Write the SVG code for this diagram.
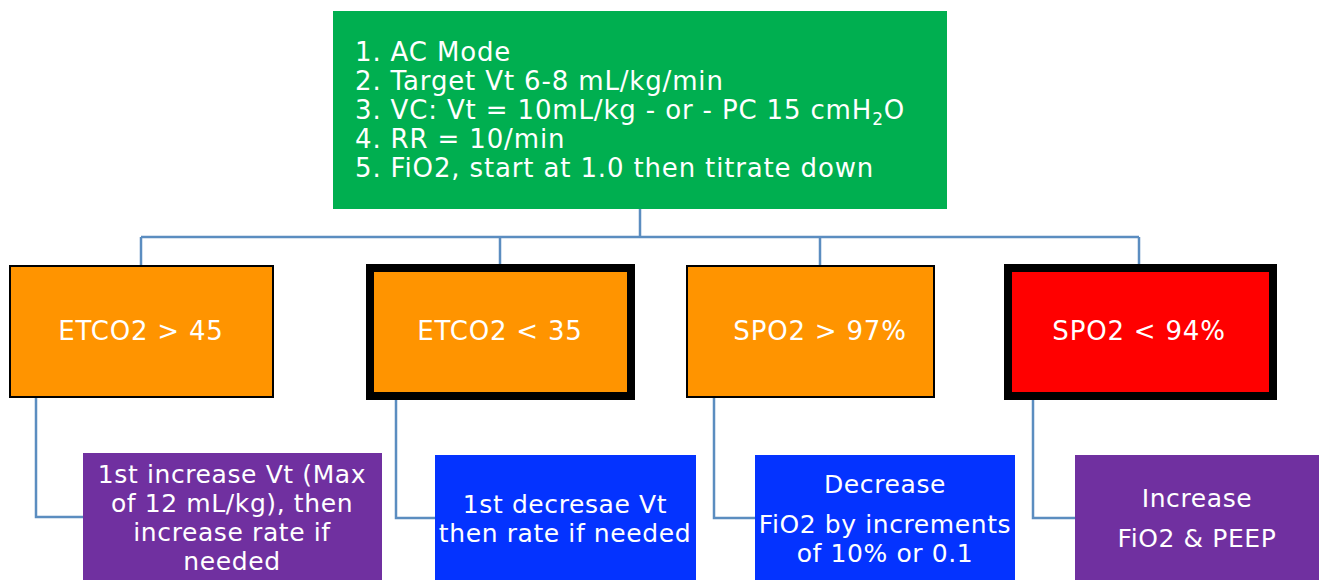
<svg xmlns="http://www.w3.org/2000/svg" width="1319" height="580" viewBox="0 0 1319 580">
<style>
text{font-family:"DejaVu Sans",Verdana,sans-serif;fill:#fff;font-size:25px;letter-spacing:0.6px}
.c{text-anchor:middle}
.g{font-size:26px;letter-spacing:0.85px}
.o{font-size:26px;letter-spacing:0.8px}
.conn{fill:none;stroke:#5B8DC0;stroke-width:2.5}
.or{fill:#FF9400}
.thin{stroke:#000;stroke-width:2}
.thick{stroke:#000;stroke-width:8}
.pu{fill:#7030A0}
.bl{fill:#0433FF}
</style>
<rect width="1319" height="580" fill="#fff"/>
<g id="connectors">
<path class="conn" d="M640 209V237M141 237H1139M141 237V265M500 237V264M820 237V265M1139 237V264"/>
<path class="conn" d="M36 398V517H83M396 400V518H435M714 398V518H755M1033 400V518H1075"/>
</g>
<g id="root">
<rect x="333" y="11" width="614" height="198" fill="#00AF50"/>
<text class="g" x="355" y="61">1. AC Mode</text>
<text class="g" x="355" y="90">2. Target Vt 6-8 mL/kg/min</text>
<text class="g" x="355" y="119">3. VC: Vt = 10mL/kg - or - PC 15 cmH<tspan font-size="17" dy="6">2</tspan><tspan dy="-6">O</tspan></text>
<text class="g" x="355" y="148">4. RR = 10/min</text>
<text class="g" x="355" y="177">5. FiO2, start at 1.0 then titrate down</text>
</g>
<g id="n1"><rect class="or thin" x="10" y="266" width="263" height="131"/><text class="c o" x="141" y="340">ETCO2 &gt; 45</text></g>
<g id="n2"><rect class="or thick" x="370" y="268" width="261" height="128"/><text class="c o" x="500" y="340">ETCO2 &lt; 35</text></g>
<g id="n3"><rect class="or thin" x="687" y="266" width="247" height="131"/><text class="c o" x="820" y="340">SPO2 &gt; 97%</text></g>
<g id="n4"><rect class="thick" fill="#FF0000" x="1008" y="268" width="265" height="128"/><text class="c o" x="1139" y="340">SPO2 &lt; 94%</text></g>
<g id="a1"><rect class="pu" x="83" y="453" width="299" height="130"/>
<text class="c" x="232" y="483">1st increase Vt (Max</text>
<text class="c" x="232" y="512">of 12 mL/kg), then</text>
<text class="c" x="232" y="541">increase rate if</text>
<text class="c" x="232" y="570">needed</text></g>
<g id="a2"><rect class="bl" x="435" y="455" width="261" height="128"/>
<text class="c" x="565" y="513">1st decresae Vt</text>
<text class="c" x="565" y="542">then rate if needed</text></g>
<g id="a3"><rect class="bl" x="755" y="455" width="260" height="128"/>
<text class="c" x="885" y="493">Decrease</text>
<text class="c" x="885" y="533">FiO2 by increments</text>
<text class="c" x="885" y="562">of 10% or 0.1</text></g>
<g id="a4"><rect class="pu" x="1075" y="455" width="244" height="128"/>
<text class="c" x="1197" y="507">Increase</text>
<text class="c" x="1197" y="547">FiO2 &amp; PEEP</text></g>
</svg>
